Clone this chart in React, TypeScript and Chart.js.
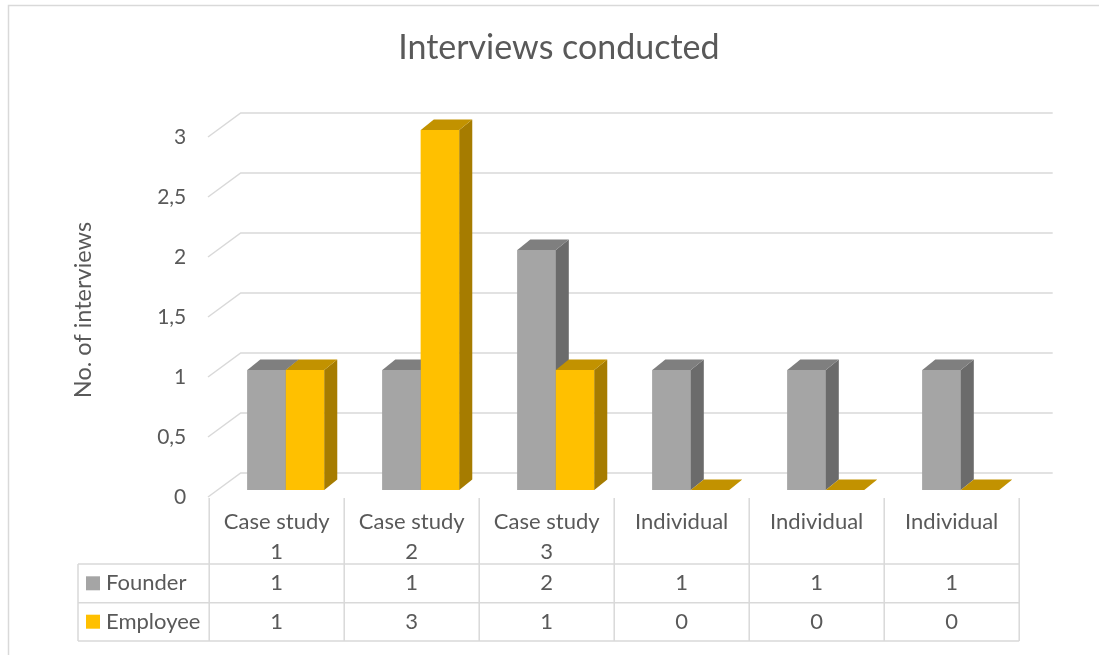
import React, { useEffect, useRef } from "react";
import { Chart, registerables } from "chart.js";

Chart.register(...registerables);

// ---- data ----
const categories: string[][] = [
  ["Case study", "1"],
  ["Case study", "2"],
  ["Case study", "3"],
  ["Individual"],
  ["Individual"],
  ["Individual"],
];
const seriesNames = ["Founder", "Employee"];
const founder = [1, 1, 2, 1, 1, 1];
const employee = [1, 3, 1, 0, 0, 0];
const yTickValues = [0, 0.5, 1, 1.5, 2, 2.5, 3];
const yTickLabels = ["0", "0,5", "1", "1,5", "2", "2,5", "3"];
const chartTitle = "Interviews conducted";
const yTitle = "No. of interviews";

// ---- styles ----
const FONT = "Lato";
const TEXT = "#595959";
const GRID = "#D9D9D9";
const frontColors = ["#A5A5A5", "#FFC000"];
const topColors = ["#7F7F7F", "#C29200"];
const sideColors = ["#6B6B6B", "#A67C00"];
const DX = 13;
const DY = -10.5;

const W = 1099;
const H = 655;

const excel3d = {
  id: "excel3d",
  beforeDraw(chart: any) {
    const ctx = chart.ctx;
    ctx.save();
    ctx.fillStyle = "#ffffff";
    ctx.fillRect(0, 0, chart.width, chart.height);
    ctx.strokeStyle = GRID;
    ctx.lineWidth = 1.5;
    ctx.beginPath();
    ctx.moveTo(8.5, chart.height);
    ctx.lineTo(8.5, 5.5);
    ctx.lineTo(chart.width, 5.5);
    ctx.stroke();
    ctx.restore();
  },
  beforeDatasetsDraw(chart: any) {
    const { ctx, chartArea } = chart;
    const y = chart.scales.y;
    ctx.save();
    ctx.strokeStyle = GRID;
    ctx.lineWidth = 1.5;
    const frontX = chartArea.left - 10.3;
    const backX0 = chartArea.left + 22.4;
    const backX1 = chartArea.right + 24.4;
    for (const v of yTickValues) {
      const py = y.getPixelForValue(v);
      ctx.beginPath();
      ctx.moveTo(frontX, py + 7);
      ctx.lineTo(backX0, py - 17);
      ctx.lineTo(backX1, py - 17);
      ctx.stroke();
    }
    ctx.restore();
  },
  afterDatasetsDraw(chart: any) {
    const ctx = chart.ctx;
    const metas = [chart.getDatasetMeta(0), chart.getDatasetMeta(1)];
    const n = categories.length;
    ctx.save();
    for (let j = 0; j < n; j++) {
      for (let i = 0; i < metas.length; i++) {
        const el = metas[i].data[j];
        if (!el) continue;
        const p = el.getProps(["x", "y", "base", "width"], true);
        const left = p.x - p.width / 2;
        const right = p.x + p.width / 2;
        const top = Math.min(p.y, p.base);
        const bottom = Math.max(p.y, p.base);
        if (bottom - top > 0.5) {
          // front
          ctx.fillStyle = frontColors[i];
          ctx.fillRect(left, top, right - left, bottom - top);
          // side
          ctx.fillStyle = sideColors[i];
          ctx.beginPath();
          ctx.moveTo(right, top);
          ctx.lineTo(right + DX, top + DY);
          ctx.lineTo(right + DX, bottom + DY);
          ctx.lineTo(right, bottom);
          ctx.closePath();
          ctx.fill();
        }
        // top
        ctx.fillStyle = topColors[i];
        ctx.beginPath();
        ctx.moveTo(left, top);
        ctx.lineTo(left + DX, top + DY);
        ctx.lineTo(right + DX, top + DY);
        ctx.lineTo(right, top);
        ctx.closePath();
        ctx.fill();
      }
    }
    ctx.restore();
  },
  afterDraw(chart: any) {
    const { ctx } = chart;
    const x = chart.scales.x;
    const y = chart.scales.y;
    const base = y.getPixelForValue(0);
    const colW = x.getPixelForValue(1) - x.getPixelForValue(0);
    const shift = -9.1;
    const n = categories.length;
    const tableLeft = x.getPixelForValue(0) + shift - colW / 2;
    const tableRight = x.getPixelForValue(n - 1) + shift + colW / 2;
    const headerLeft = 78;
    const catTop = base + 8;
    const r1 = base + 74;
    const r2 = base + 112.7;
    const r3 = base + 151;

    ctx.save();
    ctx.strokeStyle = GRID;
    ctx.lineWidth = 1.5;
    ctx.beginPath();
    for (let j = 0; j <= n; j++) {
      const cx = tableLeft + j * colW;
      ctx.moveTo(cx, catTop);
      ctx.lineTo(cx, r3);
    }
    ctx.moveTo(headerLeft, r1);
    ctx.lineTo(headerLeft, r3);
    for (const ry of [r1, r2, r3]) {
      ctx.moveTo(headerLeft, ry);
      ctx.lineTo(tableRight, ry);
    }
    ctx.stroke();

    ctx.fillStyle = TEXT;
    ctx.font = `22px ${FONT}`;
    ctx.textAlign = "center";
    ctx.textBaseline = "middle";
    const series = [founder, employee];
    for (let j = 0; j < n; j++) {
      const cx = x.getPixelForValue(j) + shift;
      categories[j].forEach((line, k) => {
        ctx.fillText(line, cx, base + 31.7 + k * 30);
      });
      ctx.fillText(String(series[0][j]), cx, base + 93.3);
      ctx.fillText(String(series[1][j]), cx, base + 131.7);
    }
    ctx.textAlign = "left";
    const rowYs = [base + 93.3, base + 131.7];
    seriesNames.forEach((name, k) => {
      ctx.fillStyle = frontColors[k];
      ctx.fillRect(86, rowYs[k] - 7, 14, 14);
      ctx.fillStyle = TEXT;
      ctx.fillText(name, 106, rowYs[k]);
    });
    ctx.restore();
  },
};

export default function App() {
  const ref = useRef<HTMLCanvasElement | null>(null);
  useEffect(() => {
    if (!ref.current) return;
    const padLeft = 89.4;
    const yTitleSize = 23.5;
    const chart = new Chart(ref.current, {
      type: "bar",
      data: {
        labels: categories,
        datasets: [
          { label: seriesNames[0], data: founder, backgroundColor: frontColors[0], borderWidth: 0 },
          { label: seriesNames[1], data: employee, backgroundColor: frontColors[1], borderWidth: 0 },
        ],
      },
      options: {
        responsive: false,
        animation: false,
        devicePixelRatio: 1,
        events: [],
        layout: { padding: { left: padLeft, right: 70.7, top: 0, bottom: 165 } },
        datasets: { bar: { categoryPercentage: 0.57, barPercentage: 1 } },
        plugins: {
          legend: { display: false },
          tooltip: { enabled: false },
          title: {
            display: true,
            text: chartTitle,
            color: TEXT,
            font: { family: FONT, size: 34, weight: "normal", lineHeight: 1.2 },
            padding: { top: 48 - 20.4, bottom: 130 - (48 - 20.4) - 40.8 },
          },
        },
        scales: {
          x: { display: false, offset: true },
          y: {
            min: 0,
            max: 3,
            afterFit: (s: any) => {
              s.width = 218.3 - padLeft;
            },
            ticks: {
              stepSize: 0.5,
              padding: 32,
              labelOffset: 7,
              color: TEXT,
              font: { family: FONT, size: 21 },
              callback: (_v: any, i: number) => yTickLabels[i],
            },
            grid: { display: false, drawTicks: false },
            border: { display: false },
            title: {
              display: true,
              text: yTitle,
              color: TEXT,
              font: { family: FONT, size: yTitleSize, lineHeight: 1.2 },
              padding: { top: 83 - padLeft - (yTitleSize * 1.2) / 2, bottom: 0 },
            },
          },
        },
      } as any,
      plugins: [excel3d],
    });
    return () => chart.destroy();
  }, []);
  return (
    <div style={{ position: "absolute", left: 0, top: 0, width: W, height: H }}>
      <canvas ref={ref} width={W} height={H} style={{ display: "block", width: W, height: H }} />
    </div>
  );
}
